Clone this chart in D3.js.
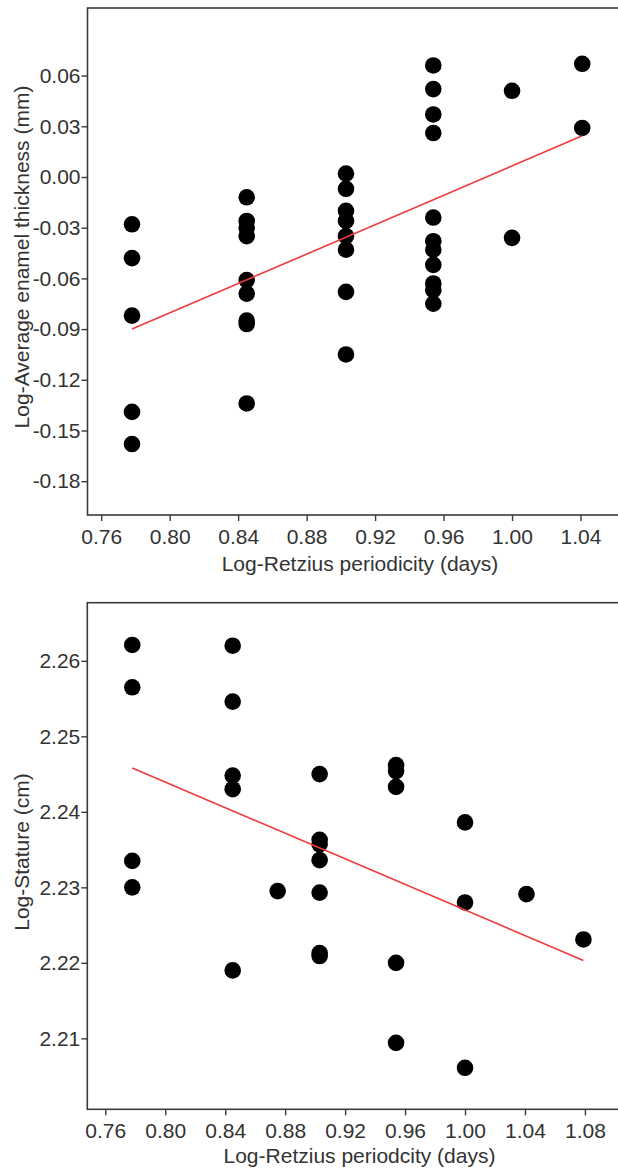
<!DOCTYPE html>
<html>
<head>
<meta charset="utf-8">
<script src="https://cdn.jsdelivr.net/npm/d3@7"></script>
<style>
  html, body { margin: 0; padding: 0; background: #fff; overflow: hidden; }
  svg { display: block; }
  text { font-family: "Liberation Sans", Arial, sans-serif; fill: #333; }
</style>
</head>
<body>
<svg id="chart" width="618" height="1171"></svg>
<script>
// ---------- Data ----------
// Panel A: Log-Average enamel thickness vs Log-Retzius periodicity
const enamelX = [
  0.778, 0.778, 0.778, 0.778, 0.778,
  0.845, 0.845, 0.845, 0.845, 0.845, 0.845, 0.845, 0.845, 0.845,
  0.903, 0.903, 0.903, 0.903, 0.903, 0.903, 0.903, 0.903,
  0.954, 0.954, 0.954, 0.954, 0.954, 0.954, 0.954, 0.954, 0.954, 0.954, 0.954,
  1.000, 1.000,
  1.041, 1.041
];
const enamelY = [
  -0.028, -0.048, -0.082, -0.139, -0.158,
  -0.012, -0.026, -0.030, -0.035, -0.061, -0.069, -0.085, -0.087, -0.134,
  0.002, -0.007, -0.020, -0.026, -0.035, -0.043, -0.068, -0.105,
  0.066, 0.052, 0.037, 0.026, -0.024, -0.038, -0.043, -0.052, -0.063, -0.067, -0.075,
  0.051, -0.036,
  0.067, 0.029
];
const enamelFitX = [0.778, 1.041];
const enamelFitY = [-0.090, 0.0244];
const enamelXTicks = [0.76, 0.80, 0.84, 0.88, 0.92, 0.96, 1.00, 1.04];
const enamelYTicks = [0.06, 0.03, 0.00, -0.03, -0.06, -0.09, -0.12, -0.15, -0.18];

// Panel B: Log-Stature vs Log-Retzius periodicity
const statureX = [
  0.778, 0.778, 0.778, 0.778,
  0.845, 0.845, 0.845, 0.845, 0.845,
  0.875,
  0.903, 0.903, 0.903, 0.903, 0.903, 0.903, 0.903,
  0.954, 0.954, 0.954, 0.954, 0.954,
  1.000, 1.000, 1.000,
  1.041,
  1.079
];
const statureY = [
  2.2621, 2.2565, 2.2335, 2.2300,
  2.2620, 2.2546, 2.2448, 2.2430, 2.2190,
  2.2295,
  2.2450, 2.2363, 2.2357, 2.2336, 2.2293, 2.2213, 2.2209,
  2.2462, 2.2454, 2.2433, 2.2200, 2.2094,
  2.2386, 2.2280, 2.2061,
  2.2291,
  2.2231
];
const statureFitX = [0.778, 1.079];
const statureFitY = [2.2458, 2.2203];
const statureXTicks = [0.76, 0.80, 0.84, 0.88, 0.92, 0.96, 1.00, 1.04, 1.08];
const statureYTicks = [2.26, 2.25, 2.24, 2.23, 2.22, 2.21];

// ---------- Drawing ----------
const svg = d3.select("#chart");
const FONT = 21;
const fmt2 = v => d3.format(".2f")(v).replace("\u2212", "-");

function panel(opts) {
  const x = d3.scaleLinear().domain(opts.xDomain).range([opts.left, opts.right]);
  const y = d3.scaleLinear().domain(opts.yDomain).range([opts.bottom, opts.top]);
  const g = svg.append("g");

  // frame
  g.append("rect")
    .attr("x", opts.left).attr("y", opts.top)
    .attr("width", opts.right - opts.left).attr("height", opts.bottom - opts.top)
    .attr("fill", "none").attr("stroke", "#3a3a3a").attr("stroke-width", 1.6);

  // axes
  const xa = g.append("g").attr("transform", `translate(0,${opts.bottom})`)
    .call(d3.axisBottom(x).tickValues(opts.xTicks).tickFormat(fmt2)
      .tickSize(6).tickPadding(8).tickSizeOuter(0));
  const ya = g.append("g").attr("transform", `translate(${opts.left},0)`)
    .call(d3.axisLeft(y).tickValues(opts.yTicks).tickFormat(fmt2)
      .tickSize(6).tickPadding(1).tickSizeOuter(0));
  [xa, ya].forEach(a => {
    a.select(".domain").remove();
    a.selectAll(".tick line").attr("stroke", "#3a3a3a").attr("stroke-width", 1.4);
    a.selectAll(".tick text").attr("font-size", FONT)
      .attr("font-family", '"Liberation Sans", Arial, sans-serif').attr("fill", "#333");
  });

  // points
  g.append("g").selectAll("circle")
    .data(opts.xs.map((d, i) => [d, opts.ys[i]]))
    .join("circle")
    .attr("cx", d => x(d[0])).attr("cy", d => y(d[1]))
    .attr("r", 8.3).attr("fill", "#000");

  // fit line
  g.append("path")
    .datum(opts.fitX.map((d, i) => [d, opts.fitY[i]]))
    .attr("d", d3.line().x(d => x(d[0])).y(d => y(d[1])))
    .attr("fill", "none").attr("stroke", "#ef3b3b").attr("stroke-width", 1.6);

  // titles
  g.append("text")
    .attr("x", opts.xTitleX).attr("y", opts.xTitleY)
    .attr("text-anchor", "middle").attr("font-size", FONT)
    .text(opts.xTitle);
  g.append("text")
    .attr("transform", `translate(${opts.yTitleX},${opts.yTitleY}) rotate(-90)`)
    .attr("text-anchor", "middle").attr("font-size", FONT)
    .text(opts.yTitle);
}

panel({
  xs: enamelX, ys: enamelY, fitX: enamelFitX, fitY: enamelFitY,
  xTicks: enamelXTicks, yTicks: enamelYTicks,
  xDomain: [0.752, 1.064], yDomain: [-0.2, 0.1],
  left: 87.5, right: 621.6, top: 8, bottom: 515,
  xTitle: "Log-Retzius periodicity (days)", xTitleX: 360, xTitleY: 571,
  yTitle: "Log-Average enamel thickness (mm)", yTitleX: 28.5, yTitleY: 257
});

panel({
  xs: statureX, ys: statureY, fitX: statureFitX, fitY: statureFitY,
  xTicks: statureXTicks, yTicks: statureYTicks,
  xDomain: [0.748, 1.104], yDomain: [2.2006, 2.2677],
  left: 87.3, right: 620.9, top: 602.7, bottom: 1109.3,
  xTitle: "Log-Retzius periodcity (days)", xTitleX: 359.5, xTitleY: 1163,
  yTitle: "Log-Stature (cm)", yTitleX: 28.5, yTitleY: 852
});
</script>
</body>
</html>
